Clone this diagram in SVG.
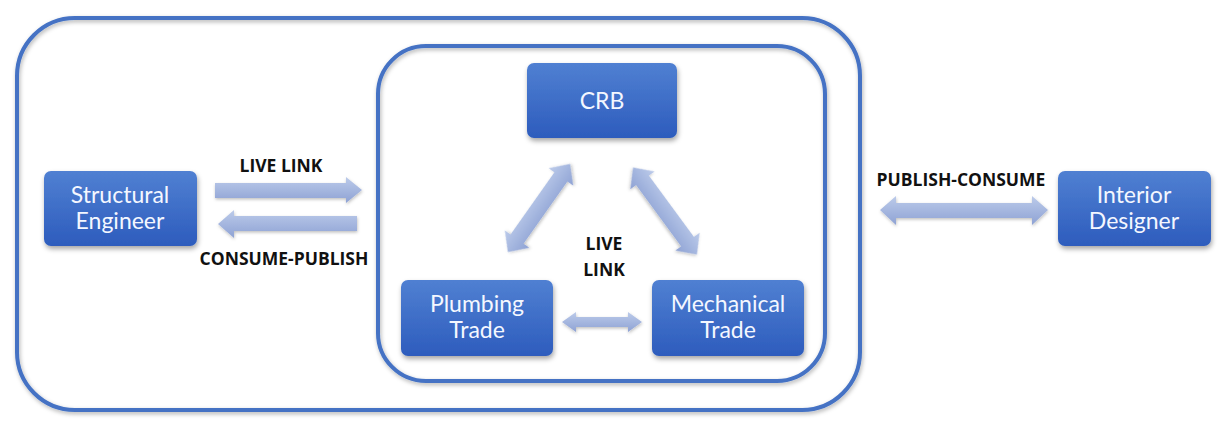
<svg xmlns="http://www.w3.org/2000/svg" width="1222" height="427" viewBox="0 0 1222 427">
<defs>
<linearGradient id="ng" x1="0" y1="0" x2="0" y2="1"><stop offset="0" stop-color="#5080d2"/><stop offset="1" stop-color="#2d5cbd"/></linearGradient>
<linearGradient id="ag" x1="0" y1="0" x2="0" y2="1"><stop offset="0" stop-color="#bccbea"/><stop offset="1" stop-color="#8ea2d4"/></linearGradient>
<filter id="sh" x="-20%" y="-20%" width="140%" height="150%"><feDropShadow dx="1" dy="3" stdDeviation="2.5" flood-color="#000" flood-opacity="0.35"/></filter>
<filter id="ash" x="-20%" y="-40%" width="140%" height="180%"><feDropShadow dx="0.5" dy="1.5" stdDeviation="1.5" flood-color="#000" flood-opacity="0.25"/></filter>
<filter id="bsh" x="-5%" y="-5%" width="110%" height="110%"><feDropShadow dx="1" dy="2" stdDeviation="2" flood-color="#000" flood-opacity="0.3"/></filter>
</defs>
<style>
.box{fill:none;stroke:#4472c4;stroke-width:4;filter:url(#bsh)}
.node rect{fill:url(#ng);filter:url(#sh)}
.node text{fill:#f4f7ff;font-family:Lato,"Open Sans",sans-serif;font-size:23px;text-anchor:middle}
.arr{fill:url(#ag);filter:url(#ash)}
.lbl{fill:#111;font-family:"Open Sans",Lato,sans-serif;font-weight:bold;font-size:17.5px;text-anchor:middle}
</style>
<g id="frames">
<rect class="box" x="17" y="18" width="843" height="392" rx="58" ry="58"/>
<rect class="box" x="378" y="46" width="447" height="335" rx="48" ry="48"/>
</g>
<g id="connectors">
<polygon class="arr" points="215,183 346,183 346,177 362,190 346,203 346,198 215,198"/>
<polygon class="arr" points="357,216 234,216 234,210 218,224 234,238 234,231 357,231"/>
<polygon class="arr" points="880,210 896,196 896,203 1032,203 1032,196 1048,210 1032,225 1032,218 896,218 896,225"/>
<polygon class="arr" points="562,322 576,312 576,317 628,317 628,312 642,322 628,332 628,327 576,327 576,332"/>
<polygon class="arr" transform="translate(539,208) rotate(-54.8)" points="-54,0 -38,-15 -38,-8 38,-8 38,-15 54,0 38,15 38,8 -38,8 -38,15"/>
<polygon class="arr" transform="translate(665,211) rotate(53.7)" points="-54,0 -38,-15 -38,-8 38,-8 38,-15 54,0 38,15 38,8 -38,8 -38,15"/>
<text class="lbl" x="281" y="172">LIVE LINK</text>
<text class="lbl" x="284" y="265">CONSUME-PUBLISH</text>
<text class="lbl" x="961" y="186">PUBLISH-CONSUME</text>
<text class="lbl" x="604" y="250">LIVE</text>
<text class="lbl" x="604" y="276">LINK</text>
</g>
<g id="crb" class="node"><rect x="527" y="63" width="150" height="75" rx="7"/><text x="602" y="109">CRB</text></g>
<g id="structural" class="node"><rect x="44" y="171" width="153" height="75" rx="7"/><text x="120" y="203">Structural</text><text x="120" y="229">Engineer</text></g>
<g id="plumbing" class="node"><rect x="401" y="280" width="152" height="76" rx="7"/><text x="477" y="312">Plumbing</text><text x="477" y="338">Trade</text></g>
<g id="mechanical" class="node"><rect x="652" y="280" width="152" height="76" rx="7"/><text x="728" y="312">Mechanical</text><text x="728" y="338">Trade</text></g>
<g id="interior" class="node"><rect x="1058" y="171" width="153" height="75" rx="7"/><text x="1134" y="203">Interior</text><text x="1134" y="229">Designer</text></g>
</svg>
